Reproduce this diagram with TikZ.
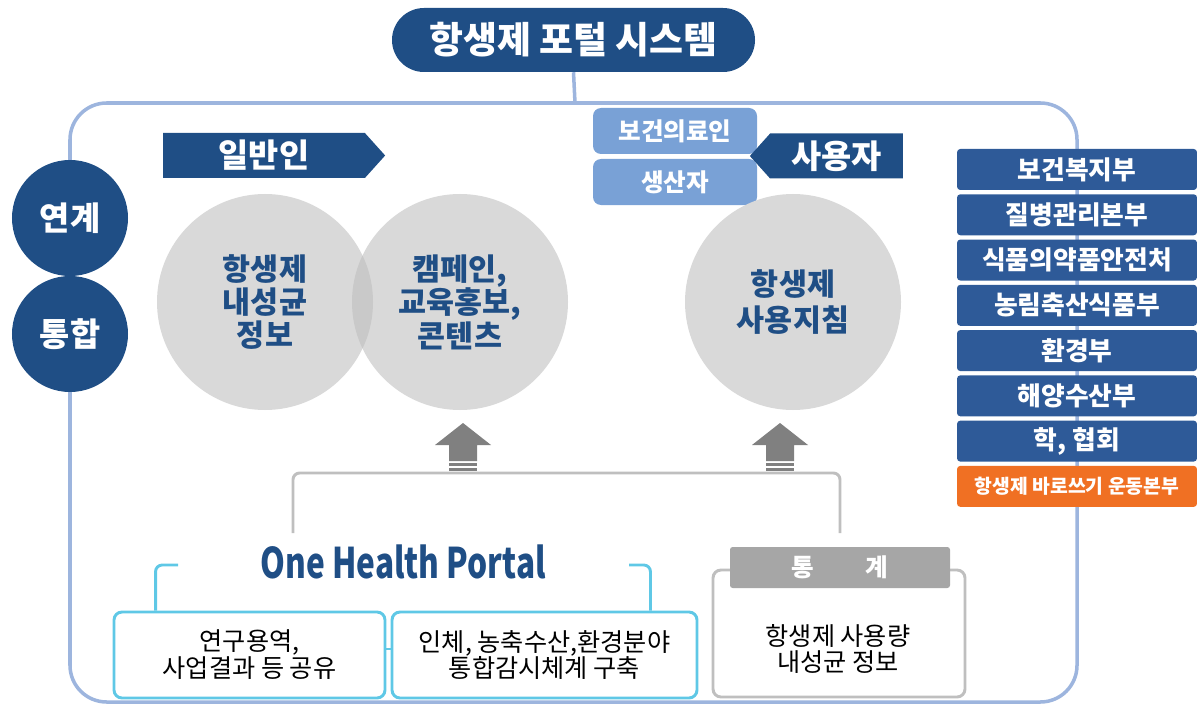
\documentclass[tikz,border=0pt]{standalone}
\usepackage{fontspec}
\setmainfont{Noto Sans CJK KR}
\usepackage{tikz}
\usetikzlibrary{positioning,shapes.symbols}
\definecolor{navy}{RGB}{31,78,133}
\definecolor{deptblue}{RGB}{46,90,152}
\definecolor{userblue}{RGB}{121,161,214}
\definecolor{framebl}{RGB}{157,181,222}
\definecolor{venngray}{RGB}{217,217,217}
\definecolor{vennov}{RGB}{201,201,201}
\definecolor{arrowgray}{RGB}{128,128,128}
\definecolor{linegray}{RGB}{191,191,191}
\definecolor{hubcyan}{RGB}{95,200,230}
\definecolor{campor}{RGB}{240,112,35}
\definecolor{statgray}{RGB}{166,166,166}

\begin{document}
\begin{tikzpicture}[x=0.3mm,y=-0.3mm,
  frameline/.style={draw=framebl,line width=3pt},
  titlebox/.style={fill=navy,text=white,rounded corners=9.6mm,minimum width=108.9mm,
                   minimum height=19.2mm,font=\fontsize{31.5}{34}\selectfont\bfseries},
  hub/.style={circle,fill=navy,text=white,minimum size=34.8mm,inner sep=0pt,
              font=\fontsize{28}{30}\selectfont\bfseries},
  banner/.style={signal,fill=navy,text=white,minimum height=13.5mm,inner sep=0pt,
                 signal pointer angle=96,font=\fontsize{28}{30}\selectfont\bfseries},
  usr/.style={fill=userblue,text=white,rounded corners=2.4mm,minimum width=49.2mm,
              minimum height=13.8mm,inner sep=0pt,font=\fontsize{21}{23}\selectfont\bfseries},
  dept/.style={fill=deptblue,text=white,rounded corners=1mm,minimum width=72mm,
               minimum height=12.3mm,inner sep=0pt,font=\fontsize{22}{24}\selectfont\bfseries},
  venn/.style={circle,fill=venngray,minimum size=64.8mm,inner sep=0pt,text=navy,align=center,
               font=\fontsize{26}{28.5}\selectfont\bfseries},
  infobox/.style={draw=hubcyan,line width=2.5pt,fill=white,rounded corners=2.4mm,
                  minimum height=25.8mm,inner sep=0pt,align=center,font=\fontsize{21.5}{23}\selectfont},
  hubline/.style={draw=hubcyan,line width=2.5pt,rounded corners=2mm},
  grayline/.style={draw=linegray,line width=2.5pt,rounded corners=2mm},
  uparrow/.pic={
    \fill[arrowgray] (0,0) -- (28,22) -- (14,22) -- (14,38) -- (-14,38) -- (-14,22) -- (-28,22) -- cycle;
    \fill[arrowgray] (-14,40) rectangle (14,42.5);
    \fill[arrowgray] (-14,45) rectangle (14,47.5);
  }]
  \useasboundingbox (0,0) rectangle (1197,705);

  % ---------- frame and title ----------
  \draw[frameline,rounded corners=11mm] (70,103) rectangle (1077,702);
  \node[titlebox] (title) at (573.5,40) {항생제 포털 시스템};
  \coordinate (ftop) at (575,103);
  \draw[frameline] (title.south) -- (ftop);

  % ---------- left hubs ----------
  \node[hub] (link) at (70,218) {연계};
  \node[hub] (merge) at (70,334) {통합};

  % ---------- user groups ----------
  \node[banner,signal to=east,minimum width=66.6mm] (public) at (264,155.5) {일반인};
  \node[usr] (medic) at (675,131) {보건의료인};
  \node[usr] (maker) at (675,182) {생산자};
  \node[banner,signal to=west,minimum width=45.9mm] (user) at (836.5,156) {사용자};

  % ---------- content circles ----------
  \node[venn] (resist) at (265,302) {항생제\\내성균\\정보};
  \node[venn] (edu) at (460,302) {캠페인,\\교육홍보,\\콘텐츠};
  \begin{scope}
    \clip (resist.center) circle (32.4mm);
    \fill[vennov] (edu.center) circle (32.4mm);
  \end{scope}
  \node[venn,font=\fontsize{26}{31.5}\selectfont\bfseries] (guide) at (793,302) {항생제\\사용지침};

  % ---------- ministries ----------
  \node[dept] (mohw) at (1077,169.5) {보건복지부};
  \node[dept,below=1.14mm of mohw] (kdca) {질병관리본부};
  \node[dept,below=1.14mm of kdca] (mfds) {식품의약품안전처};
  \node[dept,below=1.14mm of mfds] (mafra) {농림축산식품부};
  \node[dept,below=1.14mm of mafra] (menv) {환경부};
  \node[dept,below=1.14mm of menv] (mof) {해양수산부};
  \node[dept,below=1.14mm of mof] (acad) {학, 협회};
  \node[dept,below=1.14mm of acad,fill=campor,font=\fontsize{16.5}{18}\selectfont\bfseries] (campaign) {항생제 바로쓰기 운동본부};

  % ---------- arrows and bracket ----------
  \coordinate (upL) at (463,423);
  \coordinate (upR) at (780,423);
  \pic at (upL) {uparrow};
  \pic at (upR) {uparrow};
  \coordinate (brL) at (293,533);
  \coordinate (brTL) at (293,473);
  \coordinate (brTR) at (840,473);
  \coordinate (brR) at (840,533);
  \draw[grayline] (brL) -- (brTL) -- (brTR) -- (brR);

  % ---------- One Health Portal ----------
  \node[text=navy,font=\fontsize{36}{40}\selectfont\bfseries] (portal) at (403,562)
        {\scalebox{0.75}[1]{One Health Portal}};
  \node[infobox,minimum width=81.3mm] (share) at (249.5,655) {연구용역,\\사업결과 등 공유};
  \node[infobox,minimum width=91.5mm] (watch) at (544.5,655) {인체, 농축수산,환경분야\\통합감시체계 구축};
  \draw[draw=hubcyan,line width=2.5pt] ([yshift=1.8mm]share.east) -- ([yshift=1.8mm]watch.west);
  \coordinate (cbL) at (178,565);
  \coordinate (cbR) at (629,565);
  \draw[hubline] (cbL) -| ([xshift=12.9mm]share.north west);
  \draw[hubline] (cbR) -| ([xshift=-14.4mm]watch.north east);

  % ---------- statistics ----------
  \node[draw=linegray,line width=2.5pt,fill=white,rounded corners=2.4mm,minimum width=75.6mm,
        minimum height=38.1mm] (stat) at (839,633.5) {};
  \node[fill=statgray,text=white,rounded corners=0.8mm,minimum width=66mm,minimum height=12.3mm,
        inner sep=0pt,font=\fontsize{21}{23}\selectfont\bfseries] (stathead) at (840,567.5) {통\hspace{2.1em}계};
  \node[align=center,font=\fontsize{21.5}{22.5}\selectfont] (stattxt) at (838,649) {항생제 사용량\\내성균 정보};
\end{tikzpicture}
\end{document}
